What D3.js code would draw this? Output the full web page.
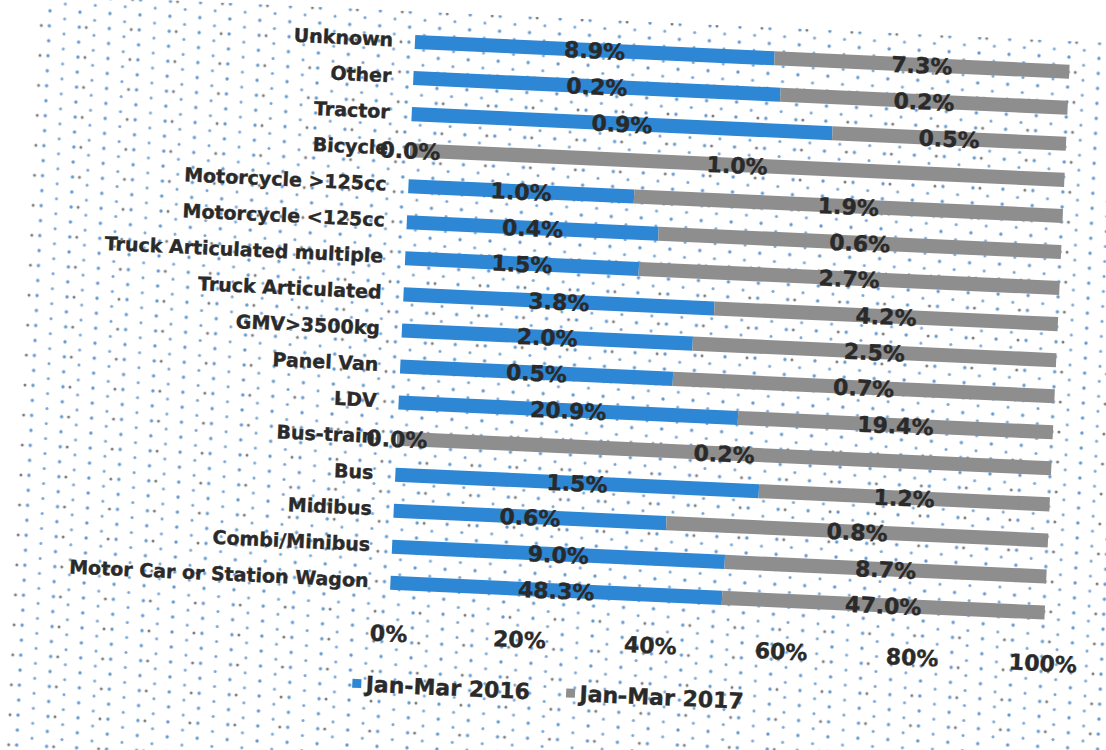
<!DOCTYPE html>
<html>
<head>
<meta charset="utf-8">
<script src="https://cdn.jsdelivr.net/npm/d3@7"></script>
<style>
    body { margin: 0; background: #fff; }
    svg text { font-family: "DejaVu Sans", "Liberation Sans", sans-serif; font-weight: bold; fill: #2a2a2a; stroke: #2a2a2a; stroke-width: 0.4px; }
</style>
</head>
<body>
<div id="svg_wrapper"></div>
<script>
// categories top to bottom
const categories = ['Unknown', 'Other', 'Tractor', 'Bicycle', 'Motorcycle >125cc', 'Motorcycle <125cc',
    'Truck Articulated multiple', 'Truck Articulated', 'GMV>3500kg', 'Panel Van', 'LDV', 'Bus-train',
    'Bus', 'Midibus', 'Combi/Minibus', 'Motor Car or Station Wagon'];

// share of each vehicle type (%)
const jan2016 = [8.9, 0.23, 0.9, 0.0, 1.0, 0.4, 1.5, 3.8, 2.0, 0.5, 20.9, 0.0, 1.5, 0.6, 9.0, 48.3];
const jan2017 = [7.3, 0.18, 0.5, 1.0, 1.9, 0.64, 2.7, 4.2, 2.5, 0.7, 19.4, 0.2, 1.2, 0.84, 8.7, 47.0];

const seriesNames = ['Jan-Mar 2016', 'Jan-Mar 2017'];
const tickValues = [0, 0.2, 0.4, 0.6, 0.8, 1];

var width = 1106, height = 750
var colors = ['#2d87d4', '#8e8e8e']

var rows = categories.map((c, i) => ({ name: c, a: jan2016[i], b: jan2017[i] }));

var stack = d3.stack()
    .keys(['a', 'b'])
    .offset(d3.stackOffsetExpand);
var layers = stack(rows);

var svg = d3.select('#svg_wrapper')
    .append('svg')
    .attr('width', width)
    .attr('height', height);

// scanned page dots
var defs = svg.append('defs');
var pat = defs.append('pattern')
    .attr('id', 'dots')
    .attr('width', 30)
    .attr('height', 15)
    .attr('patternUnits', 'userSpaceOnUse');
pat.append('circle').attr('cx', 4).attr('cy', 4).attr('r', 1.7).attr('fill', '#3f80c2').attr('opacity', 0.8);
pat.append('circle').attr('cx', 19).attr('cy', 11.5).attr('r', 1.5).attr('fill', '#3f80c2').attr('opacity', 0.7);

var pat2 = defs.append('pattern')
    .attr('id', 'dots2')
    .attr('width', 45)
    .attr('height', 30)
    .attr('patternUnits', 'userSpaceOnUse');
pat2.append('circle').attr('cx', 26).attr('cy', 19).attr('r', 1.5).attr('fill', '#333').attr('opacity', 0.65);

// whole sheet is a bit tilted on the scan
var g = svg.append('g')
    .attr('transform', 'rotate(2.6, 553, 375)');

g.append('rect').attr('x', 22).attr('y', 18).attr('width', 1200).attr('height', 800).attr('fill', 'url(#dots)');
g.append('rect').attr('x', 22).attr('y', 18).attr('width', 1200).attr('height', 800).attr('fill', 'url(#dots2)');

var x = d3.scaleLinear()
    .domain([0, 1])
    .range([400, 1055]);

var y = d3.scalePoint()
    .domain(categories)
    .range([48.6, 590]);

var barH = y.step() * 0.39;

var layer = g.selectAll('g.layer')
    .data(layers)
    .enter()
    .append('g')
    .attr('class', 'layer')
    .attr('fill', (d, i) => colors[i]);

layer.selectAll('rect')
    .data(d => d)
    .enter()
    .append('rect')
    .attr('x', d => x(d[0]))
    .attr('y', d => y(d.data.name) - barH / 2)
    .attr('width', d => x(d[1]) - x(d[0]))
    .attr('height', barH);

// value labels centred in each segment
layers.forEach((l, i) => {
    g.selectAll('text.val' + i)
        .data(l)
        .enter()
        .append('text')
        .attr('class', 'val' + i)
        .attr('x', d => x((d[0] + d[1]) / 2))
        .attr('y', d => y(d.data.name))
        .attr('dy', '0.38em')
        .attr('text-anchor', 'middle')
        .style('font-size', '22px')
        .text(d => d3.format('.1f')(d.data[l.key]) + '%');
});

// category labels
var yAxis = d3.axisLeft(y).tickSize(0).tickPadding(22);
var ya = g.append('g')
    .attr('transform', `translate(${x(0)},0)`)
    .call(yAxis);
ya.select('.domain').remove();
ya.selectAll('text')
    .attr('dy', '0.25em')
    .style('font-size', '19px');

// bottom percent axis
var xAxis = d3.axisBottom(x).tickValues(tickValues).tickFormat(d3.format('.0%')).tickSize(0).tickPadding(0);
var xa = g.append('g')
    .attr('transform', 'translate(0,633)')
    .call(xAxis);
xa.select('.domain').remove();
xa.selectAll('text')
    .attr('dy', '0.71em')
    .style('font-size', '22px');

// legend
var legendX = [371, 585];
var lg = g.selectAll('g.legend')
    .data(seriesNames)
    .enter()
    .append('g')
    .attr('class', 'legend')
    .attr('transform', (d, i) => `translate(${legendX[i]},692)`);

lg.append('rect')
    .attr('x', -4.5)
    .attr('y', -4.5)
    .attr('width', 9)
    .attr('height', 9)
    .attr('fill', (d, i) => colors[i]);

lg.append('text')
    .attr('x', 9)
    .attr('dy', '0.36em')
    .style('font-size', '22px')
    .text(d => d);
</script>
</body>
</html>
